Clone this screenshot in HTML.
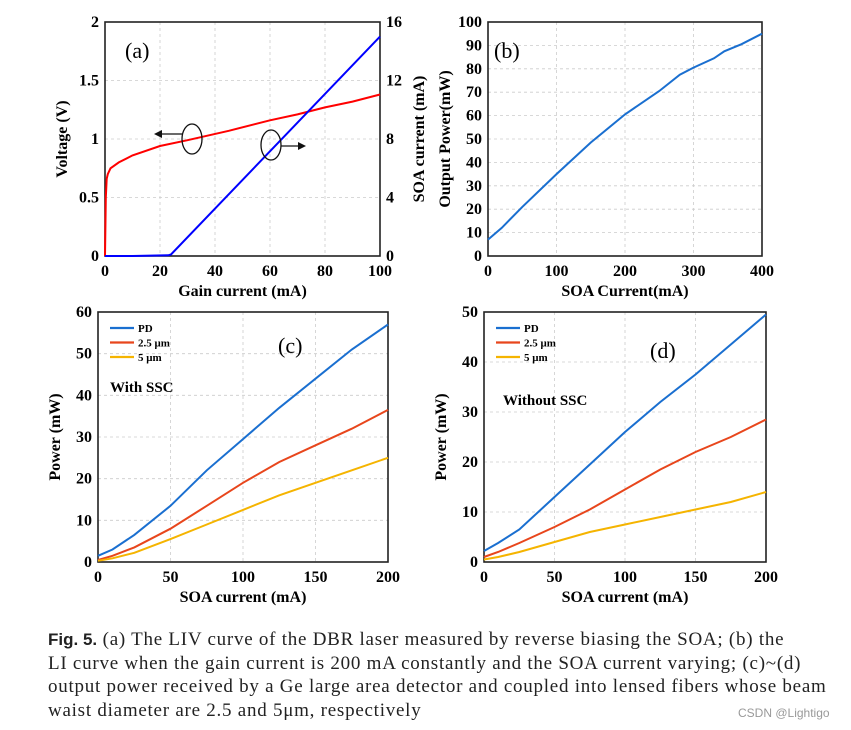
<!DOCTYPE html>
<html><head><meta charset="utf-8"><style>
body{margin:0;background:#fff;width:851px;height:730px;overflow:hidden}
svg{position:absolute;left:0;top:0}
#cap{position:absolute;left:48px;top:628px;white-space:nowrap;font-family:"Liberation Serif",serif;font-size:19px;letter-spacing:0.75px;line-height:23.5px;color:#222}
#cap b{font-family:"Liberation Sans",sans-serif;font-weight:bold;font-size:17px;letter-spacing:0}
#wm{position:absolute;left:738px;top:706px;white-space:nowrap;font-family:"Liberation Sans",sans-serif;font-size:12px;color:#999}
</style></head><body>
<svg id="fig" width="851" height="730"></svg>
<div id="cap"><b>Fig. 5.</b> (a) The LIV curve of the DBR laser measured by reverse biasing the SOA; (b) the<br>LI curve when the gain current is 200 mA constantly and the SOA current varying; (c)~(d)<br>output power received by a Ge large area detector and coupled into lensed fibers whose beam<br>waist diameter are 2.5 and 5μm, respectively</div>
<div id="wm">CSDN @Lightigo</div>
<script>
// (a)
const aX=[0,0.3,0.6,1,2,5,10,20,30,45,60,70,80,90,100];
const aV=[0,0.5,0.66,0.7,0.75,0.8,0.86,0.94,0.99,1.07,1.16,1.21,1.27,1.32,1.38];
const aIx=[0,10,23,24,100];
const aI=[0,0,0.05,0.1,15];
// (b)
const bX=[0,20,50,100,150,200,250,280,300,330,345,370,400];
const bP=[7,12,21,35,48.5,60.5,70.5,77.5,80.5,84.5,87.5,90.5,95];
// (c)
const cX=[0,10,25,50,75,100,125,150,175,200];
const cPD=[1.5,3,6.5,13.5,22,29.5,37,44,51,57];
const c25=[0.5,1.5,3.5,8,13.5,19,24,28,32,36.5];
const c5=[0.3,0.9,2.2,5.5,9,12.5,16,19,22,25];
// (d)
const dX=[0,10,25,50,75,100,125,150,175,200];
const dPD=[2.2,3.8,6.5,13,19.5,26,32,37.5,43.5,49.5];
const d25=[1,2,3.8,7,10.5,14.5,18.5,22,25,28.5];
const d5=[0.5,1,2,4,6,7.5,9,10.5,12,14];
const aXt=[0,20,40,60,80,100], aYt=[0,0.5,1,1.5,2], aRt=[0,4,8,12,16];
const bXt=[0,100,200,300,400], bYt=[0,10,20,30,40,50,60,70,80,90,100];
const cXt=[0,50,100,150,200], cYt=[0,10,20,30,40,50,60], dYt=[0,10,20,30,40,50];

const svg=document.getElementById('fig');const NS='http://www.w3.org/2000/svg';
function el(t,a,txt){const e=document.createElementNS(NS,t);for(const k in a)e.setAttribute(k,a[k]);if(txt!==undefined)e.textContent=txt;svg.appendChild(e);return e;}
const F='"Liberation Serif",serif';
function panel(name,x0,x1,y0,y1,xmin,xmax,ymin,ymax,xt,yt,xl,yl){
  const sx=v=>x0+(v-xmin)/(xmax-xmin)*(x1-x0), sy=v=>y0-(v-ymin)/(ymax-ymin)*(y0-y1);
  xt.forEach(v=>{if(v!==xmin&&v!==xmax){const g=el('line',{x1:sx(v),x2:sx(v),y1:y1,y2:y0,stroke:'#ccc','stroke-dasharray':'3,3','stroke-width':0.8});}
    const t=el('text',{x:sx(v),y:y0+20,'text-anchor':'middle','font-family':F,'font-weight':'bold','font-size':16},v);
    });
  yt.forEach(v=>{if(v!==ymin&&v!==ymax){const g=el('line',{x1:x0,x2:x1,y1:sy(v),y2:sy(v),stroke:'#ccc','stroke-dasharray':'3,3','stroke-width':0.8});}
    const t=el('text',{x:x0-6,y:sy(v)+5,'text-anchor':'end','font-family':F,'font-weight':'bold','font-size':16},v);
    });
  const r=el('rect',{x:x0,y:y1,width:x1-x0,height:y0-y1,fill:'none',stroke:'#222','stroke-width':1.6});
  
  const xlab=el('text',{x:(x0+x1)/2,y:y0+40,'text-anchor':'middle','font-family':F,'font-weight':'bold','font-size':16},xl);
  
  const yc=(y0+y1)/2, yx=x0-38;
  const ylab=el('text',{x:yx,y:yc,'text-anchor':'middle','font-family':F,'font-weight':'bold','font-size':16,transform:`rotate(-90 ${yx} ${yc})`},yl);
  
  return {sx,sy};
}
function line(ax,xs,ys,col,name,w){const d=xs.map((x,i)=>(i?'L':'M')+ax.sx(x).toFixed(1)+','+ax.sy(ys[i]).toFixed(1)).join('');
  const p=el('path',{d,fill:'none',stroke:col,'stroke-width':w||2});}
function txt(x,y,s,size,name,bold){const t=el('text',{x,y,'font-family':F,'font-size':size,'font-weight':bold?'bold':'normal'},s);}

// panel a
const A=panel('a',105,380,256,22,0,100,0,2,aXt,aYt,'Gain current (mA)','Voltage (V)');
const Ar={sx:A.sx,sy:v=>256-v/16*234};
aRt.forEach(v=>{const t=el('text',{x:386,y:Ar.sy(v)+5,'font-family':F,'font-weight':'bold','font-size':16},v);});
{const t=el('text',{x:424,y:139,'text-anchor':'middle','font-family':F,'font-weight':'bold','font-size':16,transform:'rotate(-90 424 139)'},'SOA current (mA)');}
line(A,aX,aV,'#f00','voltage-curve');
line(Ar,aIx,aI,'#00f','soa-current-curve');
txt(125,58,'(a)',22,'a-panel-label');
el('ellipse',{cx:192,cy:139,rx:10,ry:15,fill:'none',stroke:'#111','stroke-width':1.3});
el('line',{x1:182,y1:134,x2:160,y2:134,stroke:'#111','stroke-width':1.3});
el('path',{d:'M154,134 L162,130 L162,138Z',fill:'#111'});
el('ellipse',{cx:271,cy:145,rx:10,ry:15,fill:'none',stroke:'#111','stroke-width':1.3});
el('line',{x1:281,y1:146,x2:300,y2:146,stroke:'#111','stroke-width':1.3});
el('path',{d:'M306,146 L298,142 L298,150Z',fill:'#111'});

// panel b
const B=panel('b',488,762,256,22,0,400,0,100,bXt,bYt,'SOA Current(mA)','Output Power(mW)');
line(B,bX,bP,'#1a6fd0','b-output-power-curve');
txt(494,58,'(b)',22,'b-panel-label');

// panel c
const C=panel('c',98,388,562,312,0,200,0,60,cXt,cYt,'SOA current (mA)','Power (mW)');
line(C,cX,cPD,'#1a6fd0','c-pd-curve');line(C,cX,c25,'#e8461c','c-2.5um-curve');line(C,cX,c5,'#f5b400','c-5um-curve');
txt(278,353,'(c)',22,'c-panel-label');txt(110,392,'With SSC',15,'c-annotation',true);
// panel d
const D=panel('d',484,766,562,312,0,200,0,50,cXt,dYt,'SOA current (mA)','Power (mW)');
line(D,dX,dPD,'#1a6fd0','d-pd-curve');line(D,dX,d25,'#e8461c','d-2.5um-curve');line(D,dX,d5,'#f5b400','d-5um-curve');
txt(650,358,'(d)',22,'d-panel-label');txt(503,405,'Without SSC',15,'d-annotation',true);
// legends
[[104,'c'],[490,'d']].forEach(([lx,p])=>{
  [['PD','#1a6fd0'],['2.5 μm','#e8461c'],['5 μm','#f5b400']].forEach(([n,c],i)=>{
    const y=328+i*14.5;
    const l=el('line',{x1:lx+6,x2:lx+30,y1:y,y2:y,stroke:c,'stroke-width':2.2});
    txt(lx+34,y+4,n,11,p+'-legend-entry',true);
  });
});
</script>
</body></html>
